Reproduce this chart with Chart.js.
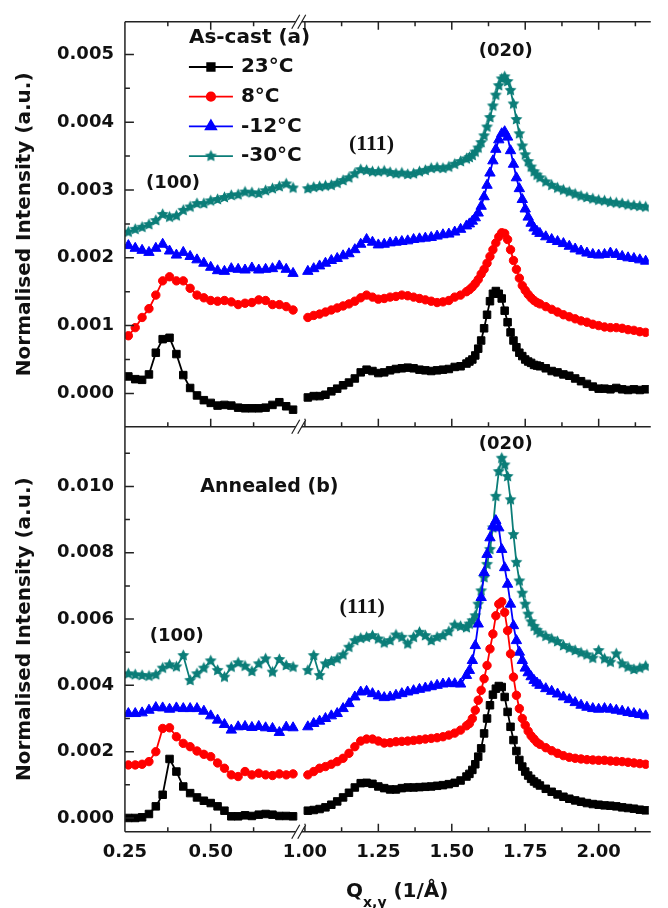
<!DOCTYPE html>
<html>
<head>
<meta charset="utf-8">
<script src="https://cdn.jsdelivr.net/npm/chart.js@4.4.1/dist/chart.umd.min.js"></script>
<style>
  html, body { margin: 0; padding: 0; background: #fff; }
  canvas { display: block; }
</style>
</head>
<body>
<canvas id="giwaxs" width="668" height="908"></canvas>
<script>
// Q values (1/Å) on each side of the axis break
const qLeft = [0.26, 0.28, 0.30, 0.32, 0.34, 0.36, 0.38, 0.40, 0.42, 0.44, 0.46, 0.48, 0.50,
  0.52, 0.54, 0.56, 0.58, 0.60, 0.62, 0.64, 0.66, 0.68, 0.70, 0.72, 0.74];
const qRight = [1.01, 1.03, 1.05, 1.07, 1.09, 1.11, 1.13, 1.15, 1.17, 1.19, 1.21, 1.23, 1.25, 1.27,
  1.29, 1.31, 1.33, 1.35, 1.37, 1.39, 1.41, 1.43, 1.45, 1.47, 1.49, 1.51, 1.53, 1.55,
  1.56, 1.57, 1.58, 1.59, 1.60, 1.61, 1.62, 1.63, 1.64, 1.65, 1.66, 1.67, 1.68, 1.69, 1.70,
  1.71, 1.72, 1.73, 1.74, 1.75, 1.76, 1.77, 1.78, 1.79, 1.80,
  1.82, 1.84, 1.86, 1.88, 1.90, 1.92, 1.94, 1.96, 1.98, 2.00, 2.02, 2.04, 2.06, 2.08, 2.10,
  2.12, 2.14, 2.16];

// (a) as-cast
const asCast23L = [0.00025, 0.00021, 0.0002, 0.00028, 0.0006, 0.0008, 0.00082, 0.00058, 0.00027, 0.00008, -0.00003, -0.0001, -0.00014,
  -0.00018, -0.00017, -0.00018, -0.00021, -0.00022, -0.00022, -0.00022, -0.00021, -0.00017, -0.00013, -0.00019, -0.00024];
const asCast8L = [0.00085, 0.00097, 0.00112, 0.00125, 0.00145, 0.00166, 0.00172, 0.00166, 0.00166, 0.00155, 0.00145, 0.00141, 0.00137,
  0.00136, 0.00137, 0.00135, 0.00131, 0.00133, 0.00134, 0.00138, 0.00137, 0.00131, 0.00131, 0.00128, 0.00123];
const asCastM12L = [0.00218, 0.00214, 0.00211, 0.00208, 0.00214, 0.0022, 0.0021, 0.00204, 0.00208, 0.00202, 0.00197, 0.00192, 0.00186,
  0.00181, 0.0018, 0.00184, 0.00183, 0.00182, 0.00185, 0.00182, 0.00183, 0.00184, 0.00188, 0.00183, 0.00177];
const asCastM30L = [0.00238, 0.00242, 0.00245, 0.00249, 0.00255, 0.00264, 0.0026, 0.00262, 0.0027, 0.00275, 0.0028, 0.0028, 0.00284,
  0.00286, 0.00289, 0.00292, 0.00293, 0.00297, 0.00296, 0.00295, 0.00299, 0.00302, 0.00305, 0.00309, 0.00303];

const asCast23R = [-0.00006, -0.00004, -0.00004, -0.00002, 0.00003, 0.00007, 0.00012, 0.00016, 0.00022, 0.00031, 0.00035, 0.00033, 0.0003, 0.00031,
  0.00034, 0.00036, 0.00037, 0.00038, 0.00037, 0.00035, 0.00034, 0.00033, 0.00034, 0.00035, 0.00036, 0.00039, 0.0004, 0.00044,
  0.00047, 0.0005, 0.00056, 0.00066, 0.00078, 0.00096, 0.00116, 0.00136, 0.00147, 0.00151, 0.00147, 0.0014, 0.00122, 0.00105, 0.0009,
  0.00078, 0.00068, 0.0006, 0.00055, 0.0005, 0.00047, 0.00045, 0.00042, 0.00041, 0.0004,
  0.00037, 0.00033, 0.00031, 0.00028, 0.00026, 0.00022, 0.00018, 0.00014, 0.0001, 0.00007, 0.00007, 0.00006, 0.00008, 0.00006, 0.00005,
  0.00006, 0.00005, 0.00006];
const asCast8R = [0.00112, 0.00115, 0.00117, 0.0012, 0.00123, 0.00126, 0.00129, 0.00132, 0.00136, 0.00141, 0.00145, 0.00142, 0.00139, 0.0014,
  0.00142, 0.00143, 0.00145, 0.00144, 0.00142, 0.0014, 0.00138, 0.00136, 0.00134, 0.00135, 0.00137, 0.00142, 0.00145, 0.0015,
  0.00153, 0.00157, 0.00162, 0.00168, 0.00176, 0.00183, 0.00192, 0.00202, 0.00212, 0.00222, 0.00231, 0.00237, 0.00236, 0.00227, 0.00212,
  0.00196, 0.00183, 0.0017, 0.00159, 0.00152, 0.00146, 0.00141, 0.00137, 0.00134, 0.00132,
  0.00128, 0.00124, 0.0012, 0.00116, 0.00113, 0.0011, 0.00107, 0.00105, 0.00102, 0.001, 0.00098, 0.00097, 0.00097, 0.00096, 0.00094,
  0.00093, 0.00091, 0.0009];
const asCastM12R = [0.0018, 0.00184, 0.00188, 0.00192, 0.00196, 0.00199, 0.00203, 0.00206, 0.00212, 0.0022, 0.00227, 0.00223, 0.00219, 0.0022,
  0.00222, 0.00223, 0.00224, 0.00225, 0.00227, 0.00228, 0.00229, 0.0023, 0.00232, 0.00234, 0.00235, 0.00238, 0.00242, 0.00247,
  0.0025, 0.00254, 0.00259, 0.00266, 0.00276, 0.0029, 0.00307, 0.00325, 0.00343, 0.0036, 0.00374, 0.00383, 0.00386, 0.00378, 0.00358,
  0.00338, 0.00318, 0.00302, 0.00286, 0.00272, 0.0026, 0.00251, 0.00244, 0.00239, 0.00236,
  0.00231, 0.00227, 0.00224, 0.00221, 0.00217, 0.00213, 0.0021, 0.00207, 0.00205, 0.00204, 0.00205, 0.00207, 0.00205, 0.00202, 0.002,
  0.00199, 0.00197, 0.00195];
const asCastM30R = [0.00302, 0.00304, 0.00305, 0.00306, 0.00307, 0.0031, 0.00314, 0.00318, 0.00324, 0.0033, 0.00329, 0.00327, 0.00327, 0.00328,
  0.00326, 0.00324, 0.00325, 0.00323, 0.00324, 0.00327, 0.00329, 0.00332, 0.00333, 0.00332, 0.00334, 0.00338, 0.00342, 0.00346,
  0.00348, 0.00351, 0.00356, 0.00362, 0.0037, 0.0038, 0.00393, 0.00407, 0.00424, 0.0044, 0.00454, 0.00464, 0.00467, 0.0046, 0.00447,
  0.00427, 0.00404, 0.00383, 0.00365, 0.00352, 0.00342, 0.00334, 0.00327, 0.00322, 0.00318,
  0.00312, 0.00307, 0.00303, 0.003, 0.00297, 0.00294, 0.00291, 0.00289, 0.00287, 0.00285, 0.00284, 0.00282, 0.00281, 0.0028, 0.00278,
  0.00277, 0.00276, 0.00275];

// (b) annealed
const ann23L = [0, 0, 0.00002, 0.00012, 0.00035, 0.0007, 0.00178, 0.0014, 0.00095, 0.00075, 0.00062, 0.00052, 0.00045,
  0.00035, 0.00022, 0.00005, 0.00005, 0.00008, 0.00006, 0.0001, 0.00012, 0.0001, 0.00006, 0.00006, 0.00005];
const ann8L = [0.0016, 0.0016, 0.00162, 0.0017, 0.002, 0.0027, 0.00272, 0.00245, 0.00225, 0.00215, 0.00202, 0.00192, 0.00185,
  0.00166, 0.0015, 0.0013, 0.00125, 0.0014, 0.0013, 0.00135, 0.0013, 0.00128, 0.00133, 0.0013, 0.00133];
const annM12L = [0.00315, 0.00315, 0.00317, 0.00325, 0.00333, 0.00332, 0.00328, 0.00332, 0.0033, 0.0033, 0.0033, 0.00322, 0.00308,
  0.00295, 0.00282, 0.00265, 0.00275, 0.00276, 0.00273, 0.00276, 0.00272, 0.0027, 0.00258, 0.00274, 0.00272];
const annM30L = [0.00435, 0.00432, 0.0043, 0.00428, 0.00432, 0.00452, 0.00462, 0.00456, 0.0049, 0.00415, 0.00435, 0.00452, 0.00474,
  0.00445, 0.00425, 0.00455, 0.00468, 0.00458, 0.00442, 0.00465, 0.0048, 0.0044, 0.00478, 0.0046, 0.00455];

const ann23R = [0.00022, 0.00024, 0.00027, 0.00032, 0.0004, 0.0005, 0.00062, 0.00076, 0.00092, 0.00105, 0.00106, 0.00103, 0.00095, 0.0009,
  0.00086, 0.00086, 0.0009, 0.00092, 0.00092, 0.00093, 0.00094, 0.00095, 0.00097, 0.00099, 0.00102, 0.00106, 0.00113, 0.00125,
  0.00133, 0.00145, 0.00162, 0.00185, 0.0021, 0.00255, 0.003, 0.0034, 0.00372, 0.0039, 0.00398, 0.00395, 0.00365, 0.0032, 0.00275,
  0.00235, 0.00202, 0.00175, 0.00155, 0.0014, 0.00128, 0.00118, 0.0011, 0.00104, 0.00098,
  0.00088, 0.00079, 0.00071, 0.00064, 0.00058, 0.00053, 0.00049, 0.00045, 0.00042, 0.0004, 0.00038, 0.00037, 0.00035, 0.00032, 0.0003,
  0.00028, 0.00025, 0.00023];
const ann8R = [0.0013, 0.0014, 0.0015, 0.00155, 0.00162, 0.0017, 0.0018, 0.00195, 0.00215, 0.00232, 0.00238, 0.00238, 0.00232, 0.00226,
  0.00227, 0.0023, 0.00231, 0.00232, 0.00234, 0.00236, 0.00238, 0.0024, 0.00242, 0.00245, 0.0025, 0.00256, 0.00265, 0.00278,
  0.00285, 0.003, 0.00325, 0.00355, 0.00385, 0.0042, 0.0046, 0.0051, 0.00555, 0.0061, 0.00645, 0.00652, 0.0062, 0.00565, 0.00495,
  0.00425, 0.0037, 0.0033, 0.003, 0.0028, 0.00262, 0.00248, 0.00238, 0.00228, 0.00222,
  0.00212, 0.00203, 0.00195, 0.00188, 0.00183, 0.0018, 0.00178, 0.00176, 0.00175, 0.00174, 0.00174, 0.00172, 0.00171, 0.0017, 0.00168,
  0.00166, 0.00164, 0.00162];
const annM12R = [0.00275, 0.00285, 0.00292, 0.003, 0.00308, 0.00315, 0.0033, 0.00345, 0.00365, 0.0038, 0.00382, 0.00375, 0.00368, 0.00363,
  0.00365, 0.0037, 0.00375, 0.0038, 0.00384, 0.00388, 0.00392, 0.00396, 0.004, 0.00404, 0.00406, 0.00405, 0.00404, 0.0043,
  0.00445, 0.00475, 0.0052, 0.00585, 0.00665, 0.0074, 0.00795, 0.00845, 0.0088, 0.00897, 0.00875, 0.0081, 0.00755, 0.00705, 0.00645,
  0.0058, 0.00535, 0.005, 0.00475, 0.00452, 0.00438, 0.00426, 0.00415, 0.00407, 0.004,
  0.0039, 0.00382, 0.00374, 0.00365, 0.00357, 0.00348, 0.0034, 0.00334, 0.0033, 0.00328, 0.0033, 0.00328, 0.00325, 0.00322, 0.00318,
  0.00315, 0.00312, 0.00308];
const annM30R = [0.00445, 0.0049, 0.0043, 0.00465, 0.00472, 0.0048, 0.00492, 0.00515, 0.00535, 0.00542, 0.00545, 0.0055, 0.0054, 0.00528,
  0.00535, 0.00552, 0.00545, 0.00525, 0.00545, 0.0056, 0.0055, 0.00535, 0.00545, 0.0055, 0.00562, 0.00582, 0.00578, 0.00574,
  0.00585, 0.00595, 0.0061, 0.00645, 0.00685, 0.00725, 0.00765, 0.0081, 0.00875, 0.0097, 0.01045, 0.01085, 0.01065, 0.0103, 0.0096,
  0.00855, 0.00771, 0.00715, 0.00678, 0.00645, 0.00615, 0.00592, 0.00578, 0.00566, 0.00558,
  0.00548, 0.0054, 0.00532, 0.0052, 0.00512, 0.00505, 0.00498, 0.00492, 0.00482, 0.00505, 0.0048, 0.0047, 0.00495, 0.00465, 0.00455,
  0.00448, 0.00452, 0.00458];

// tick values
const xTicksLeft = [0.25, 0.5];
const xTicksRight = [1, 1.25, 1.5, 1.75, 2];
const yTicksTop = [0, 0.001, 0.002, 0.003, 0.004, 0.005];
const yTicksBottom = [0, 0.002, 0.004, 0.006, 0.008, 0.01];

const FONT = "'DejaVu Sans', sans-serif";
const TEAL = '#0b7d78';

function starImage(color, r) {
  const c = document.createElement('canvas');
  const s = Math.ceil(r * 2 + 2);
  c.width = s; c.height = s;
  const g = c.getContext('2d');
  g.fillStyle = color;
  g.beginPath();
  for (let i = 0; i < 10; i++) {
    const rad = i % 2 ? r * 0.5 : r;
    const ang = -Math.PI / 2 + i * Math.PI / 5;
    g.lineTo(s / 2 + rad * Math.cos(ang), s / 2 + rad * Math.sin(ang));
  }
  g.closePath();
  g.fill();
  return c;
}
const star = starImage(TEAL, 6.3);

const styles = [
  { label: '23°C', color: '#000000', point: 'rect', radius: 5.3 },
  { label: '8°C', color: '#ff0000', point: 'circle', radius: 4.2 },
  { label: '-12°C', color: '#0000ff', point: 'triangle', radius: 6 },
  { label: '-30°C', color: TEAL, point: star, radius: 6.3 },
];

const panels = [
  { y: 'yA', left: [asCast23L, asCast8L, asCastM12L, asCastM30L], right: [asCast23R, asCast8R, asCastM12R, asCastM30R] },
  { y: 'yB', left: [ann23L, ann8L, annM12L, annM30L], right: [ann23R, ann8R, annM12R, annM30R] },
];

function pts(qs, vs) { return qs.map((q, i) => ({ x: q, y: vs[i] })); }

const datasets = [];
panels.forEach(p => {
  styles.forEach((s, i) => {
    [['xL', qLeft, p.left[i]], ['xR', qRight, p.right[i]]].forEach(([axis, qs, vs]) => {
      datasets.push({
        label: s.label,
        data: pts(qs, vs),
        xAxisID: axis,
        yAxisID: p.y,
        borderColor: s.color,
        backgroundColor: s.color,
        borderWidth: 1.8,
        pointStyle: s.point,
        pointRadius: s.radius,
        pointBorderWidth: 1,
        pointBorderColor: s.color,
        pointBackgroundColor: s.color,
        tension: 0,
      });
    });
  });
});

const tickFont = { family: FONT, size: 18, weight: 'bold' };
const yTitle = {
  display: true, text: 'Normalised Intensity (a.u.)', color: '#111',
  font: { family: FONT, size: 20, weight: 'bold' }, padding: { top: 2.5, bottom: 9.5 },
};

function yScale(min, max, ticks, weight) {
  return {
    type: 'linear', position: 'left', stack: 'panels', stackWeight: 1, weight,
    min, max,
    afterBuildTicks: sc => { sc.ticks = ticks.map(v => ({ value: v })); },
    grid: { display: false, drawTicks: false },
    border: { display: false },
    ticks: { font: tickFont, color: '#111', padding: 11, callback: v => v.toFixed(3) },
    title: yTitle,
  };
}
function xScale(min, max, ticks, w, weight) {
  return {
    type: 'linear', position: 'bottom', stack: 'break', stackWeight: w, weight,
    min, max,
    afterBuildTicks: sc => { sc.ticks = ticks.map(v => ({ value: v })); },
    grid: { display: false, drawTicks: false },
    border: { display: false },
    ticks: { font: tickFont, color: '#111', padding: 10, maxRotation: 0, autoSkip: false, callback: v => v.toFixed(2) },
  };
}

// peak labels, placed in data coordinates
const notes = [
  { text: '(100)', x: 'xL', q: 0.39, y: 'yA', v: 0.0031, font: 'bold 18px ' + FONT },
  { text: '(111)', x: 'xR', q: 1.227, y: 'yA', v: 0.00367, font: "bold 22px 'Liberation Serif', serif" },
  { text: '(020)', x: 'xR', q: 1.684, y: 'yA', v: 0.00505, font: 'bold 18px ' + FONT },
  { text: '(100)', x: 'xL', q: 0.401, y: 'yB', v: 0.00549, font: 'bold 18px ' + FONT },
  { text: '(111)', x: 'xR', q: 1.195, y: 'yB', v: 0.00634, font: "bold 22px 'Liberation Serif', serif" },
  { text: '(020)', x: 'xR', q: 1.684, y: 'yB', v: 0.01128, font: 'bold 18px ' + FONT },
  { text: 'Annealed (b)', x: 'xL', q: 0.671, y: 'yB', v: 0.00998, font: 'bold 19px ' + FONT },
];

const decor = {
  id: 'decor',
  afterDraw(chart) {
    const { ctx, chartArea: a, scales } = chart;
    const { xL, xR, yA, yB } = scales;
    const mid = yA.bottom;
    ctx.save();
    ctx.strokeStyle = '#222';
    ctx.lineWidth = 1.5;
    ctx.beginPath();
    ctx.moveTo(a.left, a.top); ctx.lineTo(a.left, a.bottom);
    [a.top, mid, a.bottom].forEach(y => { ctx.moveTo(a.left, y); ctx.lineTo(a.right + 2, y); });

    // inward ticks on the horizontal spines
    const xt = [];
    xTicksLeft.forEach(v => { xt.push([xL, v, 8]); xt.push([xL, v + 0.125, 4.5]); });
    xTicksRight.forEach(v => { xt.push([xR, v, 8]); xt.push([xR, v + 0.125, 4.5]); });
    xt.forEach(([sc, v, len]) => {
      const x = sc.getPixelForValue(v);
      if (x > sc.right + 0.5) return;
      ctx.moveTo(x, a.top); ctx.lineTo(x, a.top + len);
      ctx.moveTo(x, mid); ctx.lineTo(x, mid - len);
      ctx.moveTo(x, a.bottom); ctx.lineTo(x, a.bottom - len);
    });
    // inward ticks on the left spine
    [[yA, yTicksTop], [yB, yTicksBottom]].forEach(([sc, ticks]) => {
      const step = ticks[1] - ticks[0];
      for (let v = ticks[0]; v <= sc.max + 1e-9; v += step / 2) {
        const y = sc.getPixelForValue(v);
        if (y < sc.top - 0.5 || y > sc.bottom + 0.5) continue;
        const major = Math.abs(Math.round(v / step) * step - v) < 1e-9;
        ctx.moveTo(a.left, y); ctx.lineTo(a.left + (major ? 9 : 5), y);
      }
    });
    ctx.stroke();

    // axis break marks
    const bx = xL.right;
    [a.top, mid, a.bottom].forEach(y => {
      ctx.fillStyle = '#fff';
      ctx.beginPath();
      ctx.moveTo(bx - 7, y + 7); ctx.lineTo(bx + 1, y - 7);
      ctx.lineTo(bx + 7, y - 7); ctx.lineTo(bx - 1, y + 7);
      ctx.closePath(); ctx.fill();
      ctx.beginPath();
      ctx.moveTo(bx - 7, y + 7); ctx.lineTo(bx + 1, y - 7);
      ctx.moveTo(bx - 1, y + 7); ctx.lineTo(bx + 7, y - 7);
      ctx.lineWidth = 1.2;
      ctx.stroke();
    });

    // peak labels
    ctx.fillStyle = '#111';
    ctx.textAlign = 'center';
    ctx.textBaseline = 'middle';
    notes.forEach(n => {
      ctx.font = n.font;
      ctx.fillText(n.text, scales[n.x].getPixelForValue(n.q), scales[n.y].getPixelForValue(n.v));
    });

    // legend of panel (a)
    const lx = a.left + 64;
    ctx.textAlign = 'left';
    ctx.font = 'bold 20px ' + FONT;
    ctx.fillText('As-cast (a)', lx, 38);
    styles.forEach((s, i) => {
      const y = 67 + i * 29.7;
      ctx.strokeStyle = s.color;
      ctx.fillStyle = s.color;
      ctx.lineWidth = 1.8;
      ctx.beginPath(); ctx.moveTo(lx, y); ctx.lineTo(lx + 44, y); ctx.stroke();
      Chart.helpers.drawPoint(ctx, { pointStyle: s.point, radius: s.radius, rotation: 0, borderWidth: 1 }, lx + 22, y);
      ctx.fillStyle = '#111';
      ctx.font = 'bold 20px ' + FONT;
      ctx.fillText(s.label, lx + 52, y);
    });

    // x axis title with subscript
    ctx.textBaseline = 'alphabetic';
    let tx = xR.getPixelForValue(1.14);
    ctx.font = 'bold 20px ' + FONT;
    ctx.fillText('Q', tx, 897);
    tx += ctx.measureText('Q').width;
    ctx.font = 'bold 14px ' + FONT;
    ctx.fillText('x,y', tx, 907);
    tx += ctx.measureText('x,y').width;
    ctx.font = 'bold 20px ' + FONT;
    ctx.fillText(' (1/Å)', tx, 897);
    ctx.restore();
  },
};

new Chart(document.getElementById('giwaxs').getContext('2d'), {
  type: 'line',
  data: { datasets },
  options: {
    responsive: false,
    animation: false,
    layout: { padding: { left: 10, top: 15, right: 0, bottom: 34.7 } },
    plugins: { legend: { display: false }, tooltip: { enabled: false } },
    scales: {
      yA: yScale(-0.000492, 0.005481, yTicksTop, 1),
      yB: yScale(-0.000414, 0.0118, yTicksBottom, 0),
      xL: xScale(0.25, 0.7565, xTicksLeft, 183.7, 0),
      xR: xScale(0.979, 2.1706, xTicksRight, 370, 0),
    },
  },
  plugins: [decor],
});
</script>
</body>
</html>
